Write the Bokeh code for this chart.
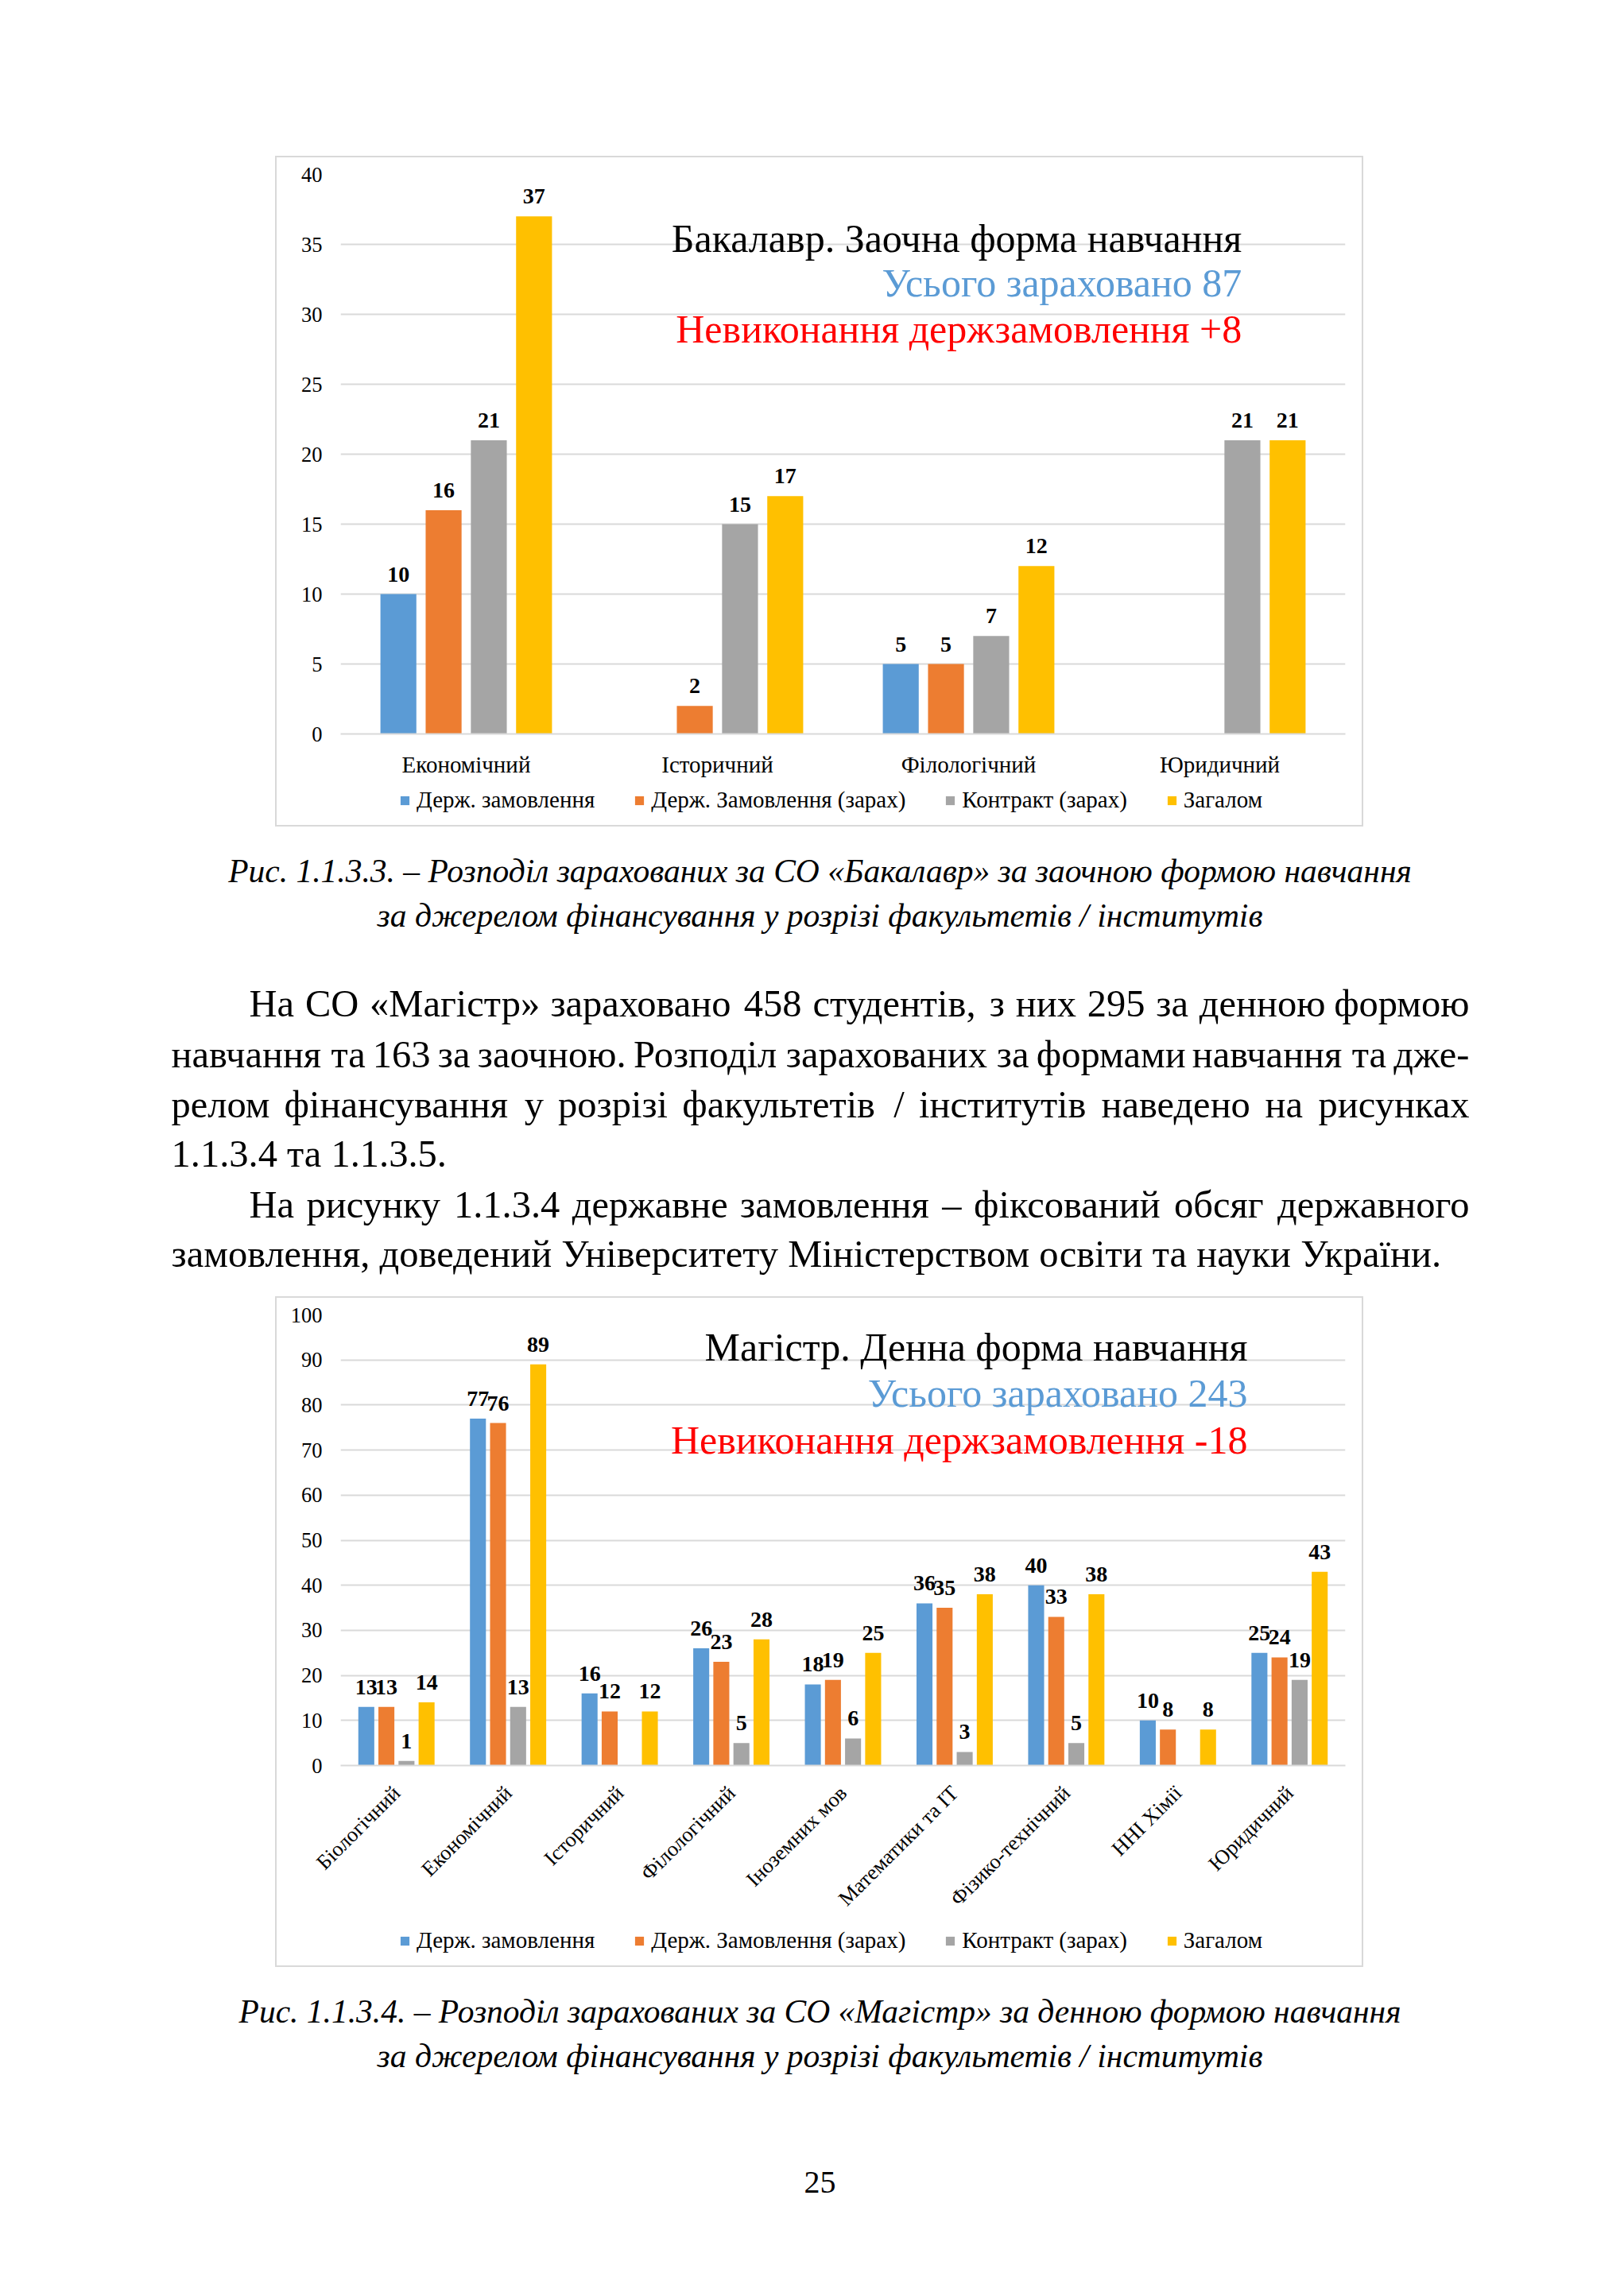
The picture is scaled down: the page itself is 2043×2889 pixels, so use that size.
import math
from bokeh.plotting import figure
from bokeh.models import (FactorRange, Range1d, FixedTicker, Legend, LegendItem,
                          Label, ColumnDataSource, Spacer)
from bokeh.layouts import column, row
from bokeh.transform import dodge
from bokeh.core.properties import value
from bokeh.embed import file_html
from bokeh.resources import INLINE

# ---------------- data ----------------
SERIES = ["Держ. замовлення", "Держ. Замовлення (зарах)", "Контракт (зарах)", "Загалом"]
COLORS = ["#5B9BD5", "#ED7D31", "#A5A5A5", "#FFC000"]

bak_faculties = ["Економічний", "Історичний", "Філологічний", "Юридичний"]
bak_derzh = [10, None, 5, None]
bak_derzh_zarah = [16, 2, 5, None]
bak_contract = [21, 15, 7, 21]
bak_total = [37, 17, 12, 21]
bak_titles = ["Бакалавр. Заочна форма навчання", "Усього зараховано 87",
              "Невиконання держзамовлення +8"]

mag_faculties = ["Біологічний", "Економічний", "Історичний", "Філологічний",
                 "Іноземних мов", "Математики та ІТ", "Фізико-технічний",
                 "ННІ Хімії", "Юридичний"]
mag_derzh = [13, 77, 16, 26, 18, 36, 40, 10, 25]
mag_derzh_zarah = [13, 76, 12, 23, 19, 35, 33, 8, 24]
mag_contract = [1, 13, None, 5, 6, 3, 5, None, 19]
mag_total = [14, 89, 12, 28, 25, 38, 38, 8, 43]
mag_titles = ["Магістр. Денна форма навчання", "Усього зараховано 243",
              "Невиконання держзамовлення -18"]

caption1 = ["Рис. 1.1.3.3. – Розподіл зарахованих за СО «Бакалавр» за заочною формою навчання",
            "за джерелом фінансування у розрізі факультетів / інститутів"]
caption2 = ["Рис. 1.1.3.4. – Розподіл зарахованих за СО «Магістр» за денною формою навчання",
            "за джерелом фінансування у розрізі факультетів / інститутів"]
body_lines = [
    "На СО «Магістр» зараховано 458 студентів, з них 295 за денною формою",
    "навчання та 163 за заочною. Розподіл зарахованих за формами навчання та дже-",
    "релом фінансування у розрізі факультетів / інститутів наведено на рисунках",
    "1.1.3.4 та 1.1.3.5.",
    "На рисунку 1.1.3.4 державне замовлення  – фіксований обсяг державного",
    "замовлення, доведений Університету Міністерством освіти та науки України.",
]
body_indent = [True, False, False, False, True, False]
body_justify = [True, True, True, False, True, False]
page_number = "25"

SERIF = "Liberation Serif"
TITLE_COLORS = ["#000000", "#5B9BD5", "#FF0000"]
GRAY = "#D9D9D9"
BOX_W = 1369


def nan(v):
    return float("nan") if v is None else v


def make_chart(cats, vals, ymax, ystep, titles, title_x, title_ys,
               height, bottom_border, rotate, label_standoff, cat_font):
    p = figure(x_range=FactorRange(*cats), y_range=Range1d(0, ymax),
               width=BOX_W, height=height, output_backend="svg", toolbar_location=None,
               min_border_left=82, min_border_right=23, min_border_top=23,
               min_border_bottom=bottom_border)
    p.outline_line_color = None
    p.border_fill_color = None
    p.background_fill_color = None
    p.styles = {"box-shadow": f"inset 2px 0 0 0 {GRAY}, inset -2px 0 0 0 {GRAY}, "
                              f"inset 0 2px 0 0 {GRAY}"}
    p.xgrid.grid_line_color = None
    p.ygrid.grid_line_color = GRAY
    p.ygrid.grid_line_width = 2

    data = {"cat": cats}
    for i, s in enumerate(vals):
        data[f"v{i}"] = [nan(v) for v in s]
        data[f"t{i}"] = ["" if v is None else str(v) for v in s]
    src = ColumnDataSource(data)

    pitch, bw = 0.18, 0.143
    for i in range(4):
        off = (i - 1.5) * pitch
        p.vbar(x=dodge("cat", off, range=p.x_range), top=f"v{i}", width=bw,
               source=src, fill_color=COLORS[i], line_color=None)
        p.text(x=dodge("cat", off, range=p.x_range), y=f"v{i}", text=f"t{i}",
               source=src, text_align="center", text_baseline="alphabetic",
               y_offset=-25, text_font=value(SERIF), text_font_size="28px",
               text_font_style="bold", text_color="#000000")

    yax = p.yaxis[0]
    yax.ticker = FixedTicker(ticks=list(range(0, ymax + 1, ystep)))
    yax.axis_line_color = None
    yax.major_tick_line_color = None
    yax.minor_tick_line_color = None
    yax.major_tick_out = 0
    yax.major_label_standoff = 23
    yax.major_label_text_font = SERIF
    yax.major_label_text_font_size = "26.5px"
    yax.major_label_text_color = "#000000"

    xax = p.xaxis[0]
    xax.axis_line_color = GRAY
    xax.axis_line_width = 2
    xax.major_tick_line_color = None
    xax.minor_tick_line_color = None
    xax.major_tick_out = 0
    xax.major_label_standoff = label_standoff
    xax.major_label_text_font = SERIF
    xax.major_label_text_font_size = f"{cat_font}px"
    xax.major_label_text_color = "#000000"
    if rotate:
        xax.major_label_orientation = math.pi / 4

    for txt, y, c in zip(titles, title_ys, TITLE_COLORS):
        p.add_layout(Label(x=title_x, y=y, text=txt, text_align="right",
                           text_baseline="alphabetic", text_font=SERIF,
                           text_font_size="50px", text_color=c))
    return p


def make_legend(height, vx, vy):
    lf = figure(width=BOX_W, height=height, x_range=Range1d(0, 1), y_range=Range1d(0, 1),
                output_backend="svg", toolbar_location=None, x_axis_type=None,
                y_axis_type=None, min_border=0)
    lf.grid.visible = False
    lf.outline_line_color = None
    lf.border_fill_color = None
    lf.background_fill_color = None
    lf.styles = {"box-shadow": f"inset 2px 0 0 0 {GRAY}, inset -2px 0 0 0 {GRAY}, "
                               f"inset 0 -2px 0 0 {GRAY}"}
    proxy = ColumnDataSource(dict(x=[float("nan")], top=[float("nan")]))
    rs = [lf.vbar(x="x", top="top", width=0.1, source=proxy, fill_color=c,
                  line_color=None) for c in COLORS]
    items = [LegendItem(label=s, renderers=[r]) for s, r in zip(SERIES, rs)]
    leg = Legend(items=items, orientation="horizontal", location=(vx, vy),
                 label_text_font=SERIF, label_text_font_size="29px",
                 label_text_color="#000000", glyph_width=14, glyph_height=14,
                 label_height=32, label_standoff=8, spacing=49, padding=0, margin=0,
                 border_line_color=None, background_fill_alpha=0)
    lf.add_layout(leg, "center")
    return lf


chart1 = make_chart(bak_faculties, [bak_derzh, bak_derzh_zarah, bak_contract, bak_total],
                    40, 5, bak_titles, 3.588, [35.4, 32.27, 28.97],
                    789, 62, False, 22, 29)
legend1 = make_legend(55, 74, 17)
chart2 = make_chart(mag_faculties, [mag_derzh, mag_derzh_zarah, mag_contract, mag_total],
                    100, 10, mag_titles, 8.124, [92.8, 82.7, 72.3],
                    792, 202, True, 30, 26.5)
legend2 = make_legend(52, 74, 17)

# ---------------- text ----------------
CW = {' ': .25, '.': .25, ',': .25, '«': .5, '»': .5, '/': .278, '–': .5, '-': .333,
      '(': .333, ')': .333, 'а': .444, 'б': .5, 'в': .472, 'г': .41, 'д': .5, 'е': .444,
      'є': .444, 'ж': .695, 'з': .395, 'и': .535, 'і': .278, 'ї': .278, 'й': .535,
      'к': .486, 'л': .5, 'м': .61, 'н': .535, 'о': .5, 'п': .535, 'р': .5, 'с': .444,
      'т': .438, 'у': .5, 'ф': .645, 'х': .5, 'ц': .535, 'ч': .5, 'ш': .77, 'щ': .77,
      'ь': .465, 'ю': .725, 'я': .486, 'І': .333, 'Р': .556, 'М': .889, 'Н': .722,
      'С': .667, 'О': .722, 'У': .722}


def tw(s, size):
    return sum(CW.get(c, .5 if not c.isupper() else .68) for c in s) * size


def text_fig(top, bottom):
    t = figure(width=2027, height=bottom - top, x_range=Range1d(0, 2027),
               y_range=Range1d(bottom, top), output_backend="svg",
               toolbar_location=None, x_axis_type=None, y_axis_type=None,
               min_border=0)
    t.grid.visible = False
    t.outline_line_color = None
    return t


def add_text(t, xs, ys, texts, align, size, style="normal"):
    t.text(x=xs, y=ys, text=texts, text_align=align, text_baseline="middle",
           text_font=value(SERIF), text_font_size=f"{size}px",
           text_font_style=style, text_color="#000000")


BODY = 48.5
CAP = 41.5
LEFT, RIGHT, INDENT = 215, 1848, 313
CENTER = 1031

text1 = text_fig(1040, 1631)
add_text(text1, [CENTER, CENTER], [1095, 1151], caption1, "center", CAP, "italic")
body_y = [1262, 1326, 1389, 1451, 1515, 1577]
lx, ly, lt, rx, ry, rt = [], [], [], [], [], []
for line, ind, just, y in zip(body_lines, body_indent, body_justify, body_y):
    x0 = INDENT if ind else LEFT
    if not just:
        lx.append(x0); ly.append(y); lt.append(line)
        continue
    words = line.split()
    widths = [tw(w, BODY) for w in words]
    gap = (RIGHT - x0 - sum(widths)) / (len(words) - 1)
    x = x0
    for k, (w, wd) in enumerate(zip(words, widths)):
        if k == len(words) - 1:
            rx.append(RIGHT); ry.append(y); rt.append(w)
        else:
            lx.append(x); ly.append(y); lt.append(w)
        x += wd + gap
add_text(text1, lx, ly, lt, "left", BODY)
add_text(text1, rx, ry, rt, "right", BODY)

text2 = text_fig(2475, 2875)
add_text(text2, [CENTER, CENTER], [2530, 2586], caption2, "center", CAP, "italic")
add_text(text2, [CENTER], [2745], [page_number], "center", 40)

layout = column(
    Spacer(width=2027, height=196),
    row(Spacer(width=346, height=844), column(chart1, legend1)),
    text1,
    row(Spacer(width=346, height=844), column(chart2, legend2)),
    text2,
)

open("out.html", "w").write(file_html(layout, INLINE))
